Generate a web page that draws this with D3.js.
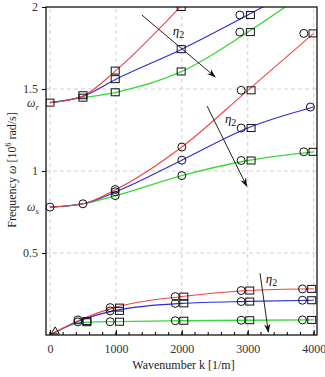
<!DOCTYPE html>
<html>
<head>
<meta charset="utf-8">
<script src="https://cdn.jsdelivr.net/npm/d3@7"></script>
<style>
  body { margin: 0; background: #fff; }
  text { font-family: 'Liberation Serif', 'Times New Roman', serif; }
</style>
</head>
<body>
<div id="chart"></div>
<script>
// wavenumber samples for the curves
const ks = [0, 500, 1000, 2000, 3000, 4000]

// lower branch
const lowRed = [0, 0.10, 0.17, 0.235, 0.271, 0.282]
const lowBlue = [0, 0.095, 0.15, 0.193, 0.205, 0.212]
const lowGreen = [0, 0.077, 0.082, 0.087, 0.09, 0.092]
// middle branch (starts at omega_s)
const midRed = [0.78, 0.80, 0.887, 1.146, 1.492, 1.839]
const midBlue = [0.78, 0.80, 0.873, 1.066, 1.262, 1.39]
const midGreen = [0.78, 0.80, 0.85, 0.972, 1.064, 1.117]
// upper branch (starts at omega_r)
const upRed = [1.417, 1.458, 1.612, 2.01, 2.45, 2.9]
const upBlue = [1.417, 1.455, 1.56, 1.743, 1.951, 2.17]
const upGreen = [1.417, 1.447, 1.48, 1.607, 1.847, 2.12]

// numerical points [k, omega]
const circleMarks = [
  [0, 0.78], [500, 0.80], [990, 0.887], [990, 0.873], [990, 0.85],
  [2000, 1.146], [2000, 1.066], [2000, 0.972],
  [2900, 1.492], [2900, 1.262], [2900, 1.064],
  [3850, 1.839], [3950, 1.39], [3850, 1.117],
  [2880, 1.951], [2880, 1.847],
  [424, 0.092], [424, 0.08], [913, 0.167], [913, 0.147], [913, 0.081],
  [1900, 0.234], [1900, 0.193], [1900, 0.087],
  [2900, 0.271], [2900, 0.204], [2900, 0.09],
  [3830, 0.281], [3830, 0.212], [3830, 0.092]
]
const squareMarks = [
  [0, 1.417], [500, 1.462], [500, 1.447], [990, 1.612], [990, 1.56], [990, 1.48],
  [1990, 2.0], [1990, 1.743], [1990, 1.607],
  [3040, 1.951], [3040, 1.847],
  [3050, 1.492], [3050, 1.262], [3050, 1.064], [3990, 1.839], [3990, 1.117],
  [560, 0.085], [560, 0.078], [1055, 0.167], [1055, 0.147], [1055, 0.081],
  [2030, 0.234], [2030, 0.193], [2030, 0.087],
  [3030, 0.271], [3030, 0.204], [3030, 0.09],
  [3970, 0.281], [3970, 0.212], [3970, 0.092]
]
const triangleMarks = [[80, 0.025]]

// eta_2 arrows [k0, w0, k1, w1] and label positions
const arrows = [
  [1394, 1.951, 2505, 1.574],
  [2383, 1.396, 2985, 0.907],
  [3186, 0.377, 3312, 0.018]
]
const arrowLabels = [[1950, 1.83], [2740, 1.29], [3360, 0.32]]

const xTicks = [0, 1000, 2000, 3000, 4000]
const yTicks = [0.5, 1, 1.5, 2]

const width = 325
const height = 377
const margin = { top: 7, right: 8, bottom: 42, left: 46 }

const svg = d3.select('#chart')
  .append('svg')
  .attr('width', width)
  .attr('height', height)

const x = d3.scaleLinear()
  .domain([-60, 4050])
  .range([margin.left, width - margin.right])

const y = d3.scaleLinear()
  .domain([0, 2])
  .range([height - margin.bottom, margin.top])

svg.append('defs').append('clipPath')
  .attr('id', 'clip')
  .append('rect')
  .attr('x', margin.left)
  .attr('y', margin.top)
  .attr('width', width - margin.left - margin.right)
  .attr('height', height - margin.top - margin.bottom)

svg.select('defs').append('marker')
  .attr('id', 'arrow')
  .attr('viewBox', '0 0 10 10')
  .attr('refX', 9)
  .attr('refY', 5)
  .attr('markerWidth', 9)
  .attr('markerHeight', 9)
  .attr('markerUnits', 'userSpaceOnUse')
  .attr('orient', 'auto')
  .append('path')
  .attr('d', 'M0,1.5 L10,5 L0,8.5 L3,5 Z')
  .attr('fill', '#111')

// grid
svg.append('g')
  .selectAll('line')
  .data(xTicks)
  .enter().append('line')
  .attr('x1', d => x(d))
  .attr('x2', d => x(d))
  .attr('y1', y(0))
  .attr('y2', margin.top)
  .attr('stroke', '#d0d0d0')
  .attr('stroke-dasharray', '4,3')

svg.append('g')
  .selectAll('line')
  .data(yTicks.filter(d => d < 2))
  .enter().append('line')
  .attr('x1', margin.left)
  .attr('x2', width - margin.right)
  .attr('y1', d => y(d))
  .attr('y2', d => y(d))
  .attr('stroke', '#d0d0d0')
  .attr('stroke-dasharray', '4,3')

// curves
const line = d3.line()
  .x((d, i) => x(ks[i]))
  .y(d => y(d))
  .curve(d3.curveMonotoneX)

const series = [
  [lowGreen, '#3ad83a', 1.3], [lowBlue, '#2b2bd6', 1.1], [lowRed, '#f04444', 1.1],
  [midGreen, '#3ad83a', 1.3], [midBlue, '#2b2bd6', 1.1], [midRed, '#f04444', 1.1],
  [upGreen, '#3ad83a', 1.3], [upBlue, '#2b2bd6', 1.1], [upRed, '#f04444', 1.1]
]

const plot = svg.append('g').attr('clip-path', 'url(#clip)')

plot.selectAll('path.curve')
  .data(series)
  .enter().append('path')
  .attr('class', 'curve')
  .attr('d', d => line(d[0]))
  .attr('fill', 'none')
  .attr('stroke', d => d[1])
  .attr('stroke-width', d => d[2])

// markers
plot.selectAll('circle.mark')
  .data(circleMarks)
  .enter().append('circle')
  .attr('class', 'mark')
  .attr('cx', d => x(d[0]))
  .attr('cy', d => y(d[1]))
  .attr('r', 4)
  .attr('fill', 'none')
  .attr('stroke', '#111')

plot.selectAll('rect.mark')
  .data(squareMarks)
  .enter().append('rect')
  .attr('class', 'mark')
  .attr('x', d => x(d[0]) - 4)
  .attr('y', d => y(d[1]) - 3.5)
  .attr('width', 8)
  .attr('height', 7)
  .attr('fill', 'none')
  .attr('stroke', '#111')

plot.selectAll('path.tri')
  .data(triangleMarks)
  .enter().append('path')
  .attr('class', 'tri')
  .attr('d', d => {
    const cx = x(d[0])
    const cy = y(d[1])
    return 'M' + (cx - 4) + ',' + (cy + 3) + 'L' + (cx + 4) + ',' + (cy + 3) + 'L' + cx + ',' + (cy - 4) + 'Z'
  })
  .attr('fill', 'none')
  .attr('stroke', '#111')

// arrows
svg.append('g')
  .selectAll('line')
  .data(arrows)
  .enter().append('line')
  .attr('x1', d => x(d[0]))
  .attr('y1', d => y(d[1]))
  .attr('x2', d => x(d[2]))
  .attr('y2', d => y(d[3]))
  .attr('stroke', '#222')
  .attr('stroke-width', 1)
  .attr('marker-end', 'url(#arrow)')

const etas = svg.append('g')
  .selectAll('text')
  .data(arrowLabels)
  .enter().append('text')
  .attr('x', d => x(d[0]))
  .attr('y', d => y(d[1]))
  .attr('text-anchor', 'middle')
  .attr('font-size', 13)
  .attr('fill', '#111')
etas.append('tspan').attr('font-style', 'italic').text('η')
etas.append('tspan').attr('font-size', 10).attr('dy', 3).text('2')

// frame
svg.append('rect')
  .attr('x', margin.left)
  .attr('y', margin.top)
  .attr('width', width - margin.left - margin.right)
  .attr('height', height - margin.top - margin.bottom)
  .attr('fill', 'none')
  .attr('stroke', '#000')
  .attr('stroke-width', 1.2)

// x axis
const xAxis = d3.axisBottom(x)
  .tickValues(xTicks)
  .tickSize(-5)
  .tickPadding(9)
  .tickFormat(d3.format('d'))

svg.append('g')
  .attr('class', 'axis x-axis')
  .attr('transform', 'translate(0,' + y(0) + ')')
  .call(xAxis)

svg.append('g')
  .attr('transform', 'translate(0,' + y(0) + ')')
  .selectAll('line')
  .data(d3.range(0, 4001, 200))
  .enter().append('line')
  .attr('x1', d => x(d))
  .attr('x2', d => x(d))
  .attr('y1', 0)
  .attr('y2', -3)
  .attr('stroke', '#000')

// y axis
const yAxis = d3.axisLeft(y)
  .tickValues(yTicks)
  .tickSize(4)
  .tickPadding(4)
  .tickFormat(d => d)

svg.append('g')
  .attr('class', 'axis y-axis')
  .attr('transform', 'translate(' + margin.left + ',0)')
  .call(yAxis)

d3.selectAll('.axis .domain').remove()
d3.selectAll('.axis text')
  .attr('font-family', "'Liberation Serif', serif")
  .attr('font-size', 12)
  .attr('fill', '#333')

// omega_s / omega_r labels
const omegaLabels = [[0.78, 's'], [1.417, 'r']]
const om = svg.append('g')
  .selectAll('text')
  .data(omegaLabels)
  .enter().append('text')
  .attr('x', margin.left - 7)
  .attr('y', d => y(d[0]) + 4)
  .attr('text-anchor', 'end')
  .attr('font-size', 12)
  .attr('fill', '#333')
om.append('tspan').attr('font-style', 'italic').text('ω')
om.append('tspan').attr('font-style', 'italic').attr('font-size', 9).attr('dy', 3).text(d => d[1])

// titles
svg.append('text')
  .attr('x', (margin.left + width - margin.right) / 2 + 2)
  .attr('y', 369)
  .attr('text-anchor', 'middle')
  .attr('font-size', 12)
  .attr('fill', '#222')
  .text('Wavenumber k [1/m]')

const yt = svg.append('text')
  .attr('transform', 'translate(16,170) rotate(-90)')
  .attr('text-anchor', 'middle')
  .attr('font-size', 12)
  .attr('fill', '#222')
yt.append('tspan').text('Frequency ')
yt.append('tspan').attr('font-style', 'italic').text('ω')
yt.append('tspan').text(' [10')
yt.append('tspan').attr('font-size', 8).attr('dy', -5).text('6')
yt.append('tspan').attr('dy', 5).text(' rad/s]')
</script>
</body>
</html>
